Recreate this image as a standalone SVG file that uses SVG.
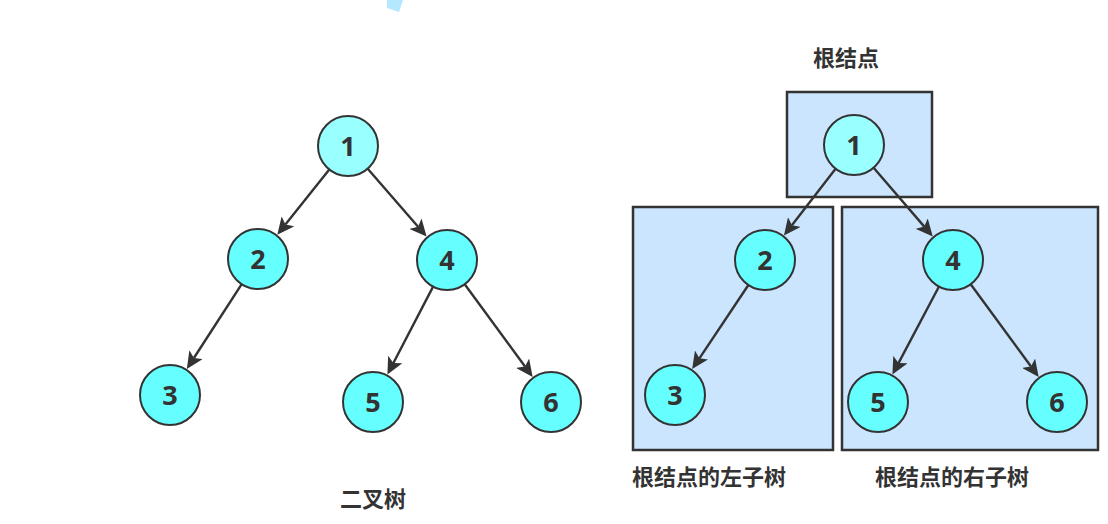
<svg xmlns="http://www.w3.org/2000/svg" width="1108" height="524" viewBox="0 0 1108 524">
<style>
.n{fill:#66ffff;stroke:#333;stroke-width:2}
.r{fill:#99ffff;stroke:#333;stroke-width:2}
.d{font-family:"Open Sans","Noto Sans",sans-serif;font-weight:bold;font-size:27px;fill:#333;text-anchor:middle}
.lb{font-family:"Noto Sans CJK SC",sans-serif;font-weight:bold;font-size:22px;fill:#333;text-anchor:middle}
.box{fill:#cce5ff;stroke:#333;stroke-width:2.5}
.e{stroke:#333;stroke-width:2.4;fill:none;marker-end:url(#ah)}
</style>
<defs>
<marker id="ah" markerUnits="userSpaceOnUse" markerWidth="17" markerHeight="16" viewBox="0 0 17 16" refX="4" refY="8" orient="auto">
<path d="M0,0 L17,8 L0,16 L4,8 z" fill="#333"/>
</marker>
</defs>
<rect width="1108" height="524" fill="#fff"/>
<polygon points="387,0 403,0 399,12 387,8" fill="#b3e8ff"/>
<g id="boxes">
<rect class="box" x="787" y="92" width="145" height="105"/>
<rect class="box" x="633" y="207" width="200" height="243"/>
<rect class="box" x="842" y="207" width="256" height="243"/>
</g>
<g id="connectors">
<line class="e" x1="329.3" y1="169.5" x2="285.4" y2="224.5"/>
<line class="e" x1="241.7" y1="284.2" x2="193.9" y2="358"/>
<line class="e" x1="367.7" y1="168.7" x2="418.1" y2="226.7"/>
<line class="e" x1="433.1" y1="286.6" x2="393.4" y2="363"/>
<line class="e" x1="464.7" y1="284.2" x2="525" y2="366.5"/>
<line class="e" x1="835.6" y1="168.7" x2="791.9" y2="225.2"/>
<line class="e" x1="748.4" y1="285" x2="699.4" y2="358.3"/>
<line class="e" x1="873.6" y1="167.7" x2="924.3" y2="226.6"/>
<line class="e" x1="939" y1="286.5" x2="898.5" y2="363.1"/>
<line class="e" x1="970.7" y1="284.2" x2="1031" y2="366.5"/>
</g>
<g id="L1"><circle class="r" cx="348" cy="146" r="30"/><text class="d" x="348" y="155.5">1</text></g>
<g id="L2"><circle class="n" cx="258" cy="259" r="30"/><text class="d" x="258" y="268.5">2</text></g>
<g id="L4"><circle class="n" cx="447" cy="260" r="30"/><text class="d" x="447" y="269.5">4</text></g>
<g id="L3"><circle class="n" cx="170" cy="395" r="30"/><text class="d" x="170" y="404.5">3</text></g>
<g id="L5"><circle class="n" cx="373" cy="402" r="30"/><text class="d" x="373" y="411.5">5</text></g>
<g id="L6"><circle class="n" cx="551" cy="402" r="30"/><text class="d" x="551" y="411.5">6</text></g>
<g id="R1"><circle class="r" cx="854" cy="145" r="30"/><text class="d" x="854" y="154.5">1</text></g>
<g id="R2"><circle class="n" cx="765" cy="260" r="30"/><text class="d" x="765" y="269.5">2</text></g>
<g id="R3"><circle class="n" cx="675" cy="395" r="30"/><text class="d" x="675" y="404.5">3</text></g>
<g id="R4"><circle class="n" cx="953" cy="260" r="30"/><text class="d" x="953" y="269.5">4</text></g>
<g id="R5"><circle class="n" cx="878" cy="402" r="30"/><text class="d" x="878" y="411.5">5</text></g>
<g id="R6"><circle class="n" cx="1057" cy="402" r="30"/><text class="d" x="1057" y="411.5">6</text></g>
<g id="labels">
<text class="lb" x="373" y="507">二叉树</text>
<text class="lb" x="846" y="66">根结点</text>
<text class="lb" x="709" y="485">根结点的左子树</text>
<text class="lb" x="952" y="485">根结点的右子树</text>
</g>
</svg>
